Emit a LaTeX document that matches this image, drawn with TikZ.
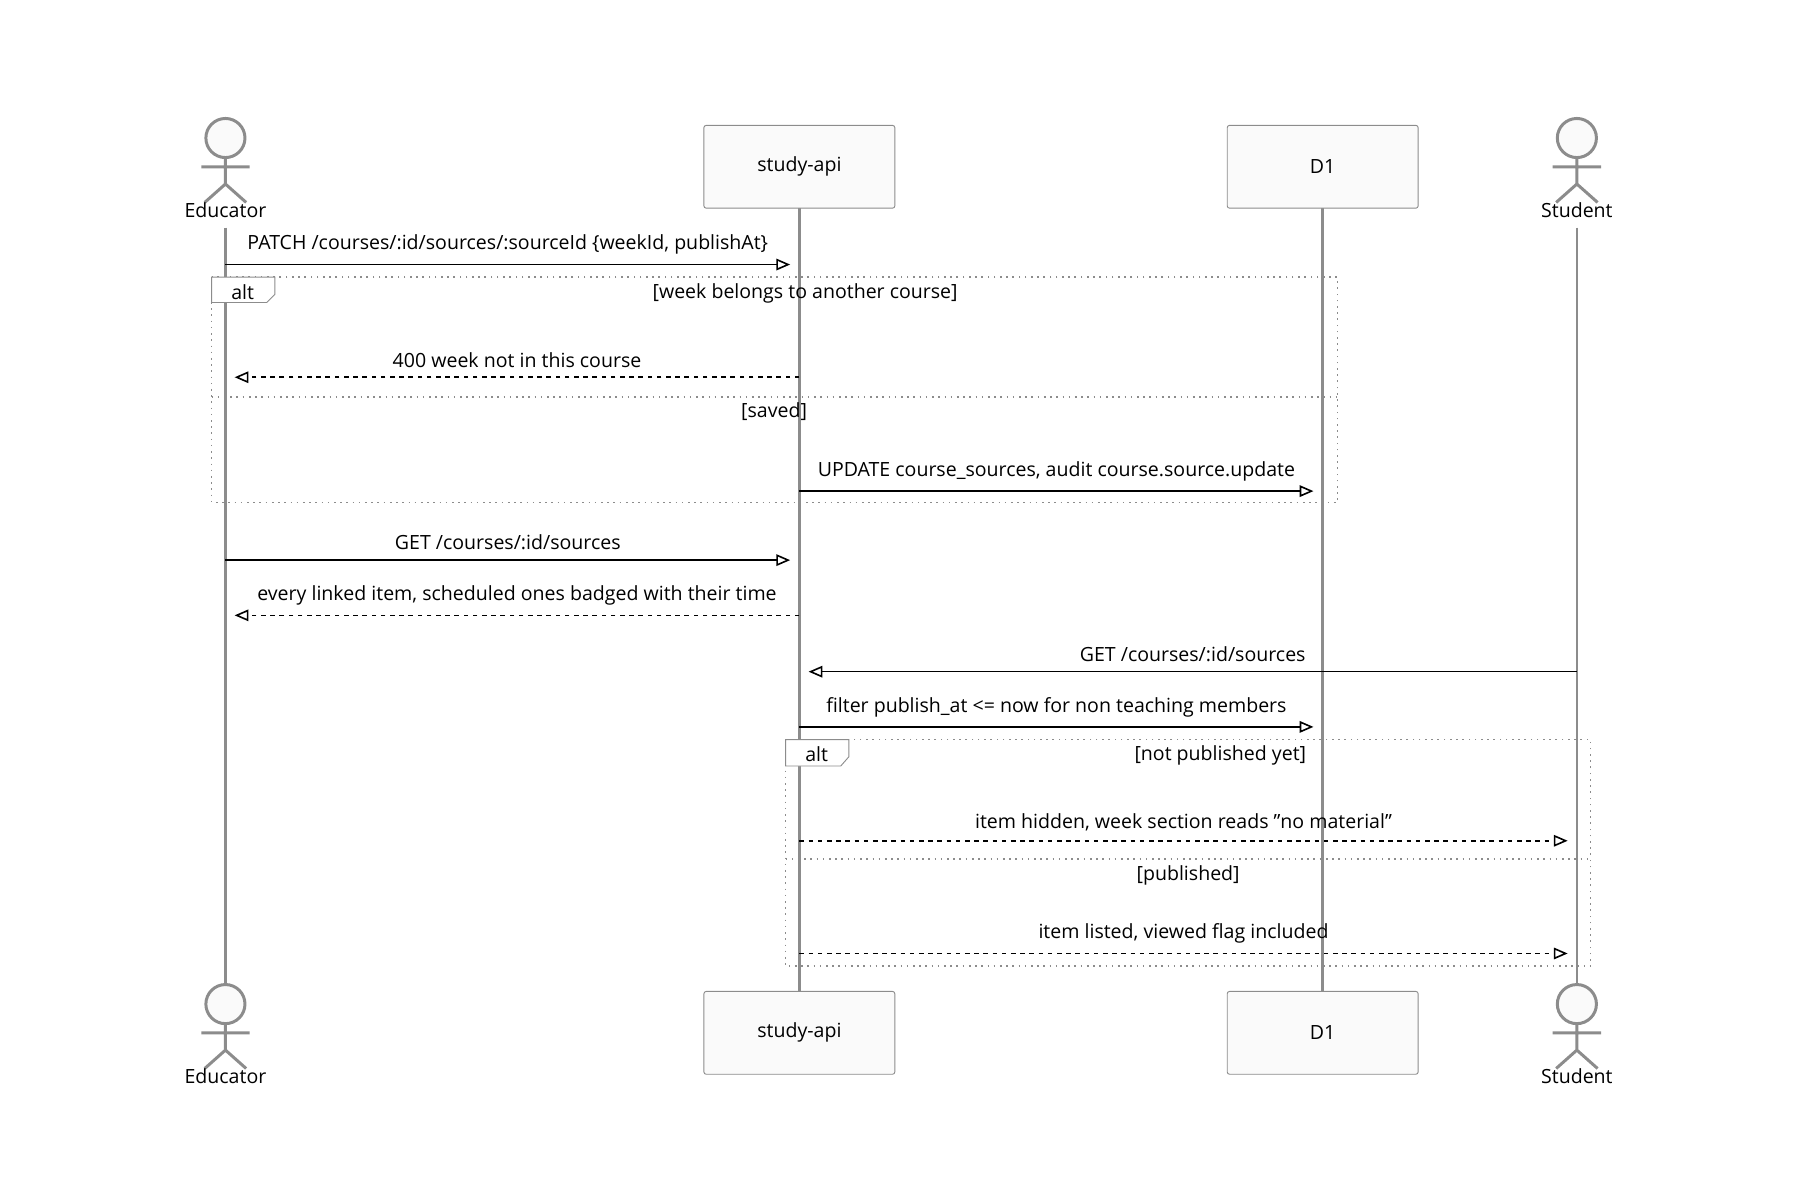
\documentclass[tikz,border=0pt]{standalone}
\usepackage{fontspec}
\setmainfont{Open Sans}
\usetikzlibrary{arrows.meta}

\tikzset{
  actor/.style={draw=black!45,line width=1.3pt},
  part/.style={draw=black!45,fill=black!2,rounded corners=1pt,minimum width=83pt,minimum height=36pt,font=\fontsize{8.5}{10}\selectfont},
  life/.style={draw=black!45,line width=1.1pt},
  msg/.style={draw=black,line width=0.7pt,-{Triangle[open,length=6pt,width=5pt]}},
  reply/.style={msg,dashed,dash pattern=on 2pt off 2pt},
  lbl/.style={font=\fontsize{8.5}{10}\selectfont,inner sep=0pt},
  frame/.style={draw=black!45,line width=0.7pt,dotted},
}
\newcommand{\stick}[3]{% x, y of head centre, name
  \draw[actor,fill=black!2] (#1,#2) circle(17);
  \draw[actor] (#1,#2+17) -- (#1,#2+40) (#1-21,#2+25) -- (#1+21,#2+25)
    (#1-18,#2+56) -- (#1,#2+40) -- (#1+18,#2+56);
  \node[lbl] at (#1,#2+63) {#3};
}

\begin{document}
\begin{tikzpicture}[x=0.5pt,y=-0.5pt]
\useasboundingbox (0,0) rectangle (1565,1043);

% lifelines
\draw[life] (196,198) -- (196,857);
\draw[life] (695,181) -- (695,862);
\draw[life] (1150,181) -- (1150,862);
\draw[life] (1371,198) -- (1371,857);

% participants
\stick{196}{120}{Educator}
\stick{1371}{120}{Student}
\stick{196}{873}{Educator}
\stick{1371}{873}{Student}
\node[part] (apiT) at (695,145) {study-api};
\node[part] (dbT) at (1150,145) {D1};
\node[part] (apiB) at (695,898) {study-api};
\node[part] (dbB) at (1150,898) {D1};

% message ends
\foreach \n/\y in {1/230,2/328,3/427,4/487,5/535,6/584,7/632,8/731,9/829}{
  \coordinate (e\n) at (196,\y);
  \coordinate (a\n) at (695,\y);
  \coordinate (d\n) at (1150,\y);
  \coordinate (s\n) at (1371,\y);
}

% first alt
\draw[frame] (184,241) rectangle (1163,437);
\draw[frame] (184,345) -- (1163,345);
\draw[draw=black!45,fill=white] (184,241) -- (239,241) -- (239,256) -- (232,263) -- (184,263) -- cycle;
\node[lbl] at (211,254) {alt};
\node[lbl] at (700,255) {[week belongs to another course]};
\node[lbl] at (673,358) {[saved]};

% second alt
\draw[frame] (683,643) rectangle (1383,840);
\draw[frame] (683,747) -- (1383,747);
\draw[draw=black!45,fill=white] (683,643) -- (738,643) -- (738,658) -- (731,666) -- (683,666) -- cycle;
\node[lbl] at (710,656) {alt};
\node[lbl] at (1061,657) {[not published yet]};
\node[lbl] at (1033,761) {[published]};

% messages
\draw[msg] (e1) -- ([xshift=-4]a1) node[lbl,midway,above=4pt] {PATCH /courses/:id/sources/:sourceId \{weekId, publishAt\}};
\draw[reply] (a2) -- ([xshift=4]e2) node[lbl,midway,above=4pt] {400 week not in this course};
\draw[msg] (a3) -- ([xshift=-4]d3) node[lbl,midway,above=4pt] {UPDATE course\_sources, audit course.source.update};
\draw[msg] (e4) -- ([xshift=-4]a4) node[lbl,midway,above=4pt] {GET /courses/:id/sources};
\draw[reply] (a5) -- ([xshift=4]e5) node[lbl,midway,above=4pt] {every linked item, scheduled ones badged with their time};
\draw[msg] (s6) -- ([xshift=4]a6) node[lbl,midway,above=4pt] {GET /courses/:id/sources};
\draw[msg] (a7) -- ([xshift=-4]d7) node[lbl,midway,above=4pt] {filter publish\_at <= now for non teaching members};
\draw[reply] (a8) -- ([xshift=-4]s8) node[lbl,midway,above=4pt] {item hidden, week section reads \symbol{34}no material\symbol{34}};
\draw[reply] (a9) -- ([xshift=-4]s9) node[lbl,midway,above=4pt] {item listed, viewed flag included};
\end{tikzpicture}
\end{document}
